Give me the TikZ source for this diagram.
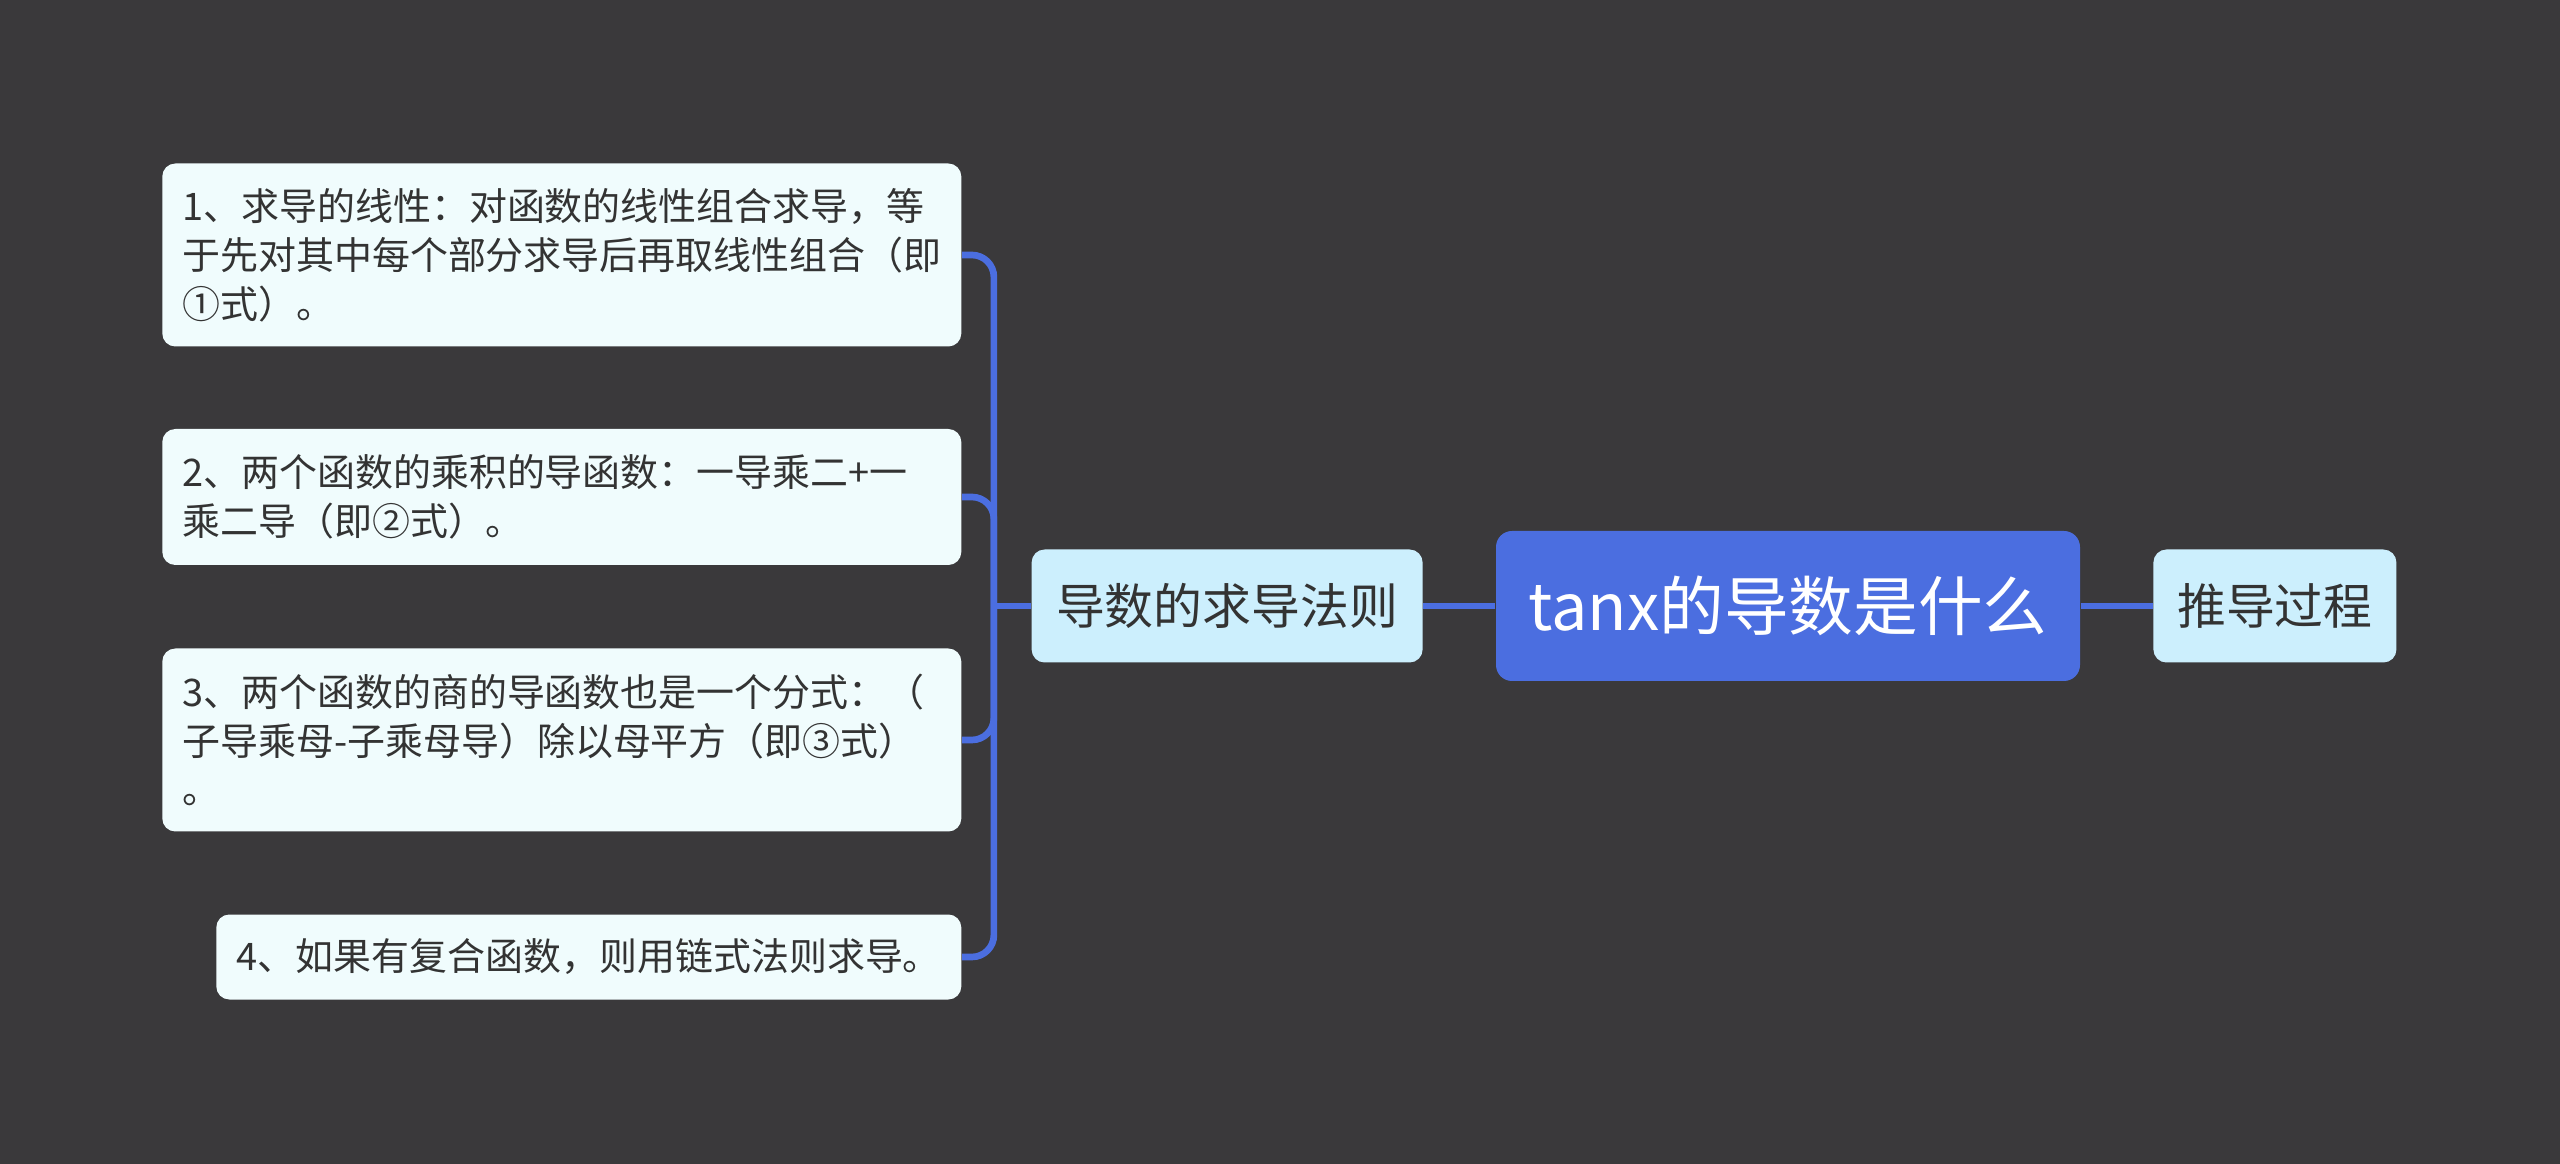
\documentclass[tikz,border=0pt]{standalone}
\usepackage{fontspec}
\setmainfont{Noto Sans CJK SC}
\usetikzlibrary{positioning}
\definecolor{canvas}{HTML}{3A393B}
\definecolor{rootblue}{HTML}{4B6EE0}
\definecolor{topicblue}{HTML}{CCEFFD}
\definecolor{leafwhite}{HTML}{F0FCFD}
\definecolor{inkgray}{HTML}{333333}

\begin{document}
\begin{tikzpicture}[
    node distance=0.72cm,
    root/.style={rectangle, rounded corners=0.16cm, fill=rootblue, text=white, minimum width=5.84cm, minimum height=1.5cm, font=\fontsize{18.4}{21}\selectfont},
    topic/.style={rectangle, rounded corners=0.13cm, fill=topicblue, text=inkgray, minimum height=1.13cm, font=\fontsize{13.9}{16}\selectfont},
    leaf/.style={rectangle, rounded corners=0.13cm, fill=leafwhite, text=inkgray, anchor=east, inner xsep=0.2cm, align=left, font=\fontsize{10.8}{13.9}\selectfont},
    leafwide/.style={leaf, text width=7.59cm},
    link/.style={draw=rootblue, line width=1.9pt, rounded corners=0.22cm}
]
    \fill[canvas] (0,0) rectangle (25.6,-11.64);
    \useasboundingbox (0,0) rectangle (25.6,-11.64);

    \node[root] (root) at (17.88,-6.06) {tanx的导数是什么};
    \node[topic, minimum width=3.91cm, left=of root] (rules) {导数的求导法则};
    \node[topic, minimum width=2.43cm, right=of root] (proof) {推导过程};

    \node[leafwide, minimum height=1.83cm] (lin) at (9.62,-2.55) {1、求导的线性：对函数的线性组合求导，等\\于先对其中每个部分求导后再取线性组合（即\\①式）。};
    \node[leafwide, minimum height=1.36cm] (prod) at (9.62,-4.97) {2、两个函数的乘积的导函数：一导乘二+一\\乘二导（即②式）。};
    \node[leafwide, minimum height=1.83cm] (quot) at (9.62,-7.40) {3、两个函数的商的导函数也是一个分式：（\\子导乘母-子乘母导）除以母平方（即③式）\\。};
    \node[leaf, align=center, minimum width=7.45cm, minimum height=0.85cm] (chain) at (9.62,-9.57) {4、如果有复合函数，则用链式法则求导。};

    \draw[link] (root) -- (rules);
    \draw[link] (root) -- (proof);
    \draw[link] (rules.west) -- ++(-0.37,0) coordinate (bus);
    \draw[link] (bus) |- (lin.east);
    \draw[link] (bus) |- (prod.east);
    \draw[link] (bus) |- (quot.east);
    \draw[link] (bus) |- (chain.east);
\end{tikzpicture}
\end{document}
